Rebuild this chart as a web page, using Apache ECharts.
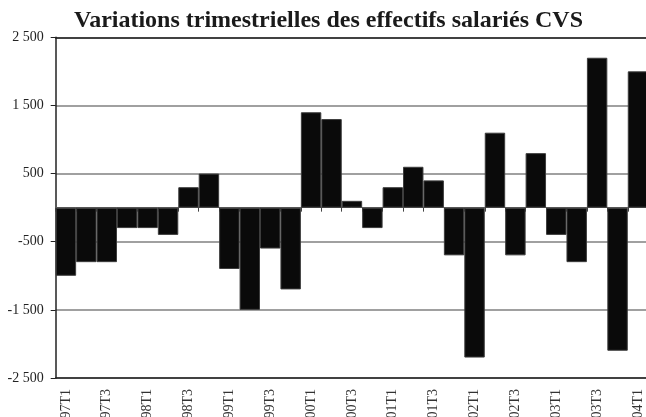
<!DOCTYPE html>
<html>
<head>
<meta charset="utf-8">
<script src="https://cdn.jsdelivr.net/npm/echarts@6/dist/echarts.min.js"></script>
<style>html,body{margin:0;padding:0;background:#fff;}#c{width:646px;height:417px;}</style>
</head>
<body>
<div id="c"></div>
<script>
const titleText = 'Variations trimestrielles des effectifs salariés CVS';
const categories = [
  '1997T1','1997T2','1997T3','1997T4',
  '1998T1','1998T2','1998T3','1998T4',
  '1999T1','1999T2','1999T3','1999T4',
  '2000T1','2000T2','2000T3','2000T4',
  '2001T1','2001T2','2001T3','2001T4',
  '2002T1','2002T2','2002T3','2002T4',
  '2003T1','2003T2','2003T3','2003T4',
  '2004T1'
];
const variations = [
  -1000, -800, -800, -300,
  -300, -400, 300, 500,
  -900, -1500, -600, -1200,
  1400, 1300, 100, -300,
  300, 600, 400, -700,
  -2200, 1100, -700, 800,
  -400, -800, 2200, -2100,
  2000
];
const yMin = -2500, yMax = 2500, yStep = 1000;

const serif = '"Liberation Serif", "Times New Roman", serif';
const fmt = v => String(v).replace(/\B(?=(\d{3})+(?!\d))/g, ' ');

const chart = echarts.init(document.getElementById('c'), null, {renderer: 'canvas'});
chart.setOption({
  animation: false,
  backgroundColor: '#ffffff',
  title: {
    text: titleText,
    left: 74, top: 9,
    padding: 0,
    textStyle: {fontFamily: serif, fontSize: 24, fontWeight: 'bold', color: '#1a1a1a'}
  },
  grid: {left: 55.7, top: 37.3, width: 592.5, height: 340.7, containLabel: false, outerBoundsMode: 'none'},
  xAxis: [
    {
      type: 'category', data: categories, position: 'bottom',
      axisLine: {onZero: true, lineStyle: {color: '#666', width: 1}},
      axisTick: {show: true, interval: 0, length: 4, lineStyle: {color: '#444', width: 1}},
      axisLabel: {show: false},
      splitLine: {show: false}
    },
    {
      type: 'category', data: categories, position: 'bottom',
      axisLine: {onZero: false, lineStyle: {color: '#222', width: 1.5}},
      axisTick: {show: false},
      axisLabel: {show: true, interval: 1, rotate: 90, margin: 11,
        fontFamily: serif, fontSize: 14, color: '#333'},
      splitLine: {show: false}
    },
    {
      type: 'category', data: categories, position: 'top',
      axisLine: {onZero: false, lineStyle: {color: '#222', width: 1.5}},
      axisTick: {show: false},
      axisLabel: {show: false},
      splitLine: {show: false}
    }
  ],
  yAxis: {
    type: 'value', min: yMin, max: yMax, interval: yStep,
    axisLine: {show: true, lineStyle: {color: '#222', width: 1.5}},
    axisTick: {show: true, length: 5, lineStyle: {color: '#222', width: 1}},
    axisLabel: {formatter: fmt, margin: 12, fontFamily: serif, fontSize: 14, color: '#222'},
    splitLine: {show: true, lineStyle: {color: '#808080', width: 1.5}}
  },
  series: [{
    type: 'bar',
    xAxisIndex: 1,
    data: variations,
    barCategoryGap: '0%',
    itemStyle: {color: '#0a0a0a', borderColor: '#3c3c3c', borderWidth: 1}
  }]
});
</script>
</body>
</html>
